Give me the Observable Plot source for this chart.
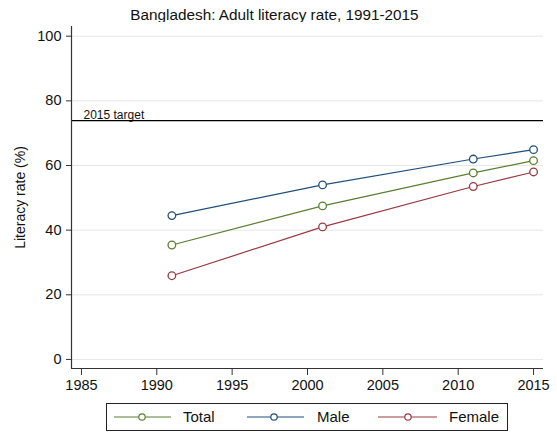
<!DOCTYPE html>
<html>
<head>
<meta charset="utf-8">
<script src="https://cdn.jsdelivr.net/npm/d3@7"></script>
<script src="https://cdn.jsdelivr.net/npm/@observablehq/plot@0.6"></script>
<style>
  html, body { margin: 0; padding: 0; background: #fff; }
  body { width: 557px; height: 433px; position: relative; overflow: hidden; font-family: "Liberation Sans", Arial, sans-serif; }
  #title { position: absolute; left: 0; top: 0; width: 549px; height: 22px; text-align: center; font-size: 15.3px; line-height: 30px; color: #111; }
  #chart { position: absolute; left: 0; top: 22px; }
  #legend { position: absolute; left: 106px; top: 403px; width: 400px; height: 26px; border: 1px solid #222; background: #fff; }
  .lg-text { position: absolute; top: 0; font-size: 15px; line-height: 26px; color: #111; }
</style>
</head>
<body>
<div id="title">Bangladesh: Adult literacy rate, 1991-2015</div>
<div id="chart"></div>
<div id="legend"></div>
<script>
const years = [1991, 2001, 2011, 2015];
const totalRate = [35.4, 47.5, 57.7, 61.5];
const maleRate = [44.5, 54.0, 62.0, 64.9];
const femaleRate = [25.9, 41.0, 53.5, 58.0];
const seriesNames = ["Total", "Male", "Female"];
const seriesColors = ["#5a7f32", "#1f4f7c", "#983a42"];
const target = 73.9;
const targetLabel = "2015 target";
const xTicks = [1985, 1990, 1995, 2000, 2005, 2010, 2015];
const yTicks = [0, 20, 40, 60, 80, 100];

const seriesValues = [totalRate, maleRate, femaleRate];
const rows = [];
seriesNames.forEach((s, i) => years.forEach((y, j) => rows.push({series: s, year: y, value: seriesValues[i][j]})));

const xDomain = [1984.34, 2015.66];
const yDomain = [-2.8, 103];

const chart = Plot.plot({
  width: 557,
  height: 373,
  marginLeft: 71,
  marginRight: 14,
  marginTop: 4,
  marginBottom: 27,
  style: {fontFamily: "Liberation Sans, Arial, sans-serif", fontSize: "14.5px", color: "#111", background: "#fff"},
  x: {domain: xDomain},
  y: {domain: yDomain},
  color: {domain: seriesNames, range: seriesColors},
  marks: [
    Plot.gridY(yTicks, {stroke: "#e6e6e6", strokeOpacity: 1, strokeWidth: 1}),
    Plot.ruleY([target], {stroke: "#000", strokeWidth: 1.3}),
    Plot.text([target], {y: d => d, frameAnchor: "left", textAnchor: "start", lineAnchor: "bottom", dx: 12, dy: -1.5, text: () => targetLabel, fontSize: 12, fill: "#111"}),
    Plot.line(rows, {x: "year", y: "value", z: "series", stroke: "series", strokeWidth: 1.2}),
    Plot.dot(rows, {x: "year", y: "value", stroke: "series", fill: "#fff", r: 3.8, strokeWidth: 1.3}),
    Plot.ruleX([xDomain[0]], {stroke: "#333", strokeWidth: 1.2}),
    Plot.ruleY([yDomain[0]], {stroke: "#333", strokeWidth: 1.2}),
    Plot.axisY(yTicks, {tickSize: 5, tickPadding: 5, stroke: "#333", label: null, fontSize: 14.5}),
    Plot.axisX(xTicks, {tickSize: 7, tickPadding: 4, stroke: "#333", tickFormat: "d", label: null, fontSize: 14.5}),
    Plot.text(["Literacy rate (%)"], {frameAnchor: "left", textAnchor: "middle", dx: -51, rotate: -90, text: d => d, fontSize: 14, fill: "#111"})
  ]
});
document.getElementById("chart").appendChild(chart);

// legend
const legend = document.getElementById("legend");
const entries = [
  {line: [7, 64], marker: 35, text: 76},
  {line: [140, 197], marker: 167, text: 210},
  {line: [271, 330], marker: 301, text: 342}
];
seriesNames.forEach((name, i) => {
  const e = entries[i];
  const ns = "http://www.w3.org/2000/svg";
  const svg = document.createElementNS(ns, "svg");
  svg.setAttribute("width", 400);
  svg.setAttribute("height", 26);
  svg.style.position = "absolute";
  svg.style.left = "0";
  svg.style.top = "0";
  const ln = document.createElementNS(ns, "line");
  ln.setAttribute("x1", e.line[0]); ln.setAttribute("x2", e.line[1]);
  ln.setAttribute("y1", 13); ln.setAttribute("y2", 13);
  ln.setAttribute("stroke", seriesColors[i]); ln.setAttribute("stroke-width", 1.2);
  svg.appendChild(ln);
  const c = document.createElementNS(ns, "circle");
  c.setAttribute("cx", e.marker); c.setAttribute("cy", 13); c.setAttribute("r", 3.2);
  c.setAttribute("fill", "#fff"); c.setAttribute("stroke", seriesColors[i]); c.setAttribute("stroke-width", 1.2);
  svg.appendChild(c);
  legend.appendChild(svg);
  const t = document.createElement("div");
  t.className = "lg-text";
  t.style.left = e.text + "px";
  t.textContent = name;
  legend.appendChild(t);
});
</script>
</body>
</html>
